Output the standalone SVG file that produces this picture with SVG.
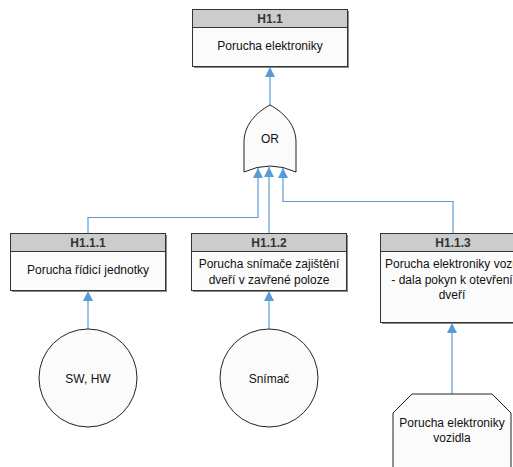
<svg xmlns="http://www.w3.org/2000/svg" width="513" height="467" viewBox="0 0 513 467">
  <style>
    .box { fill: #fbfbfb; stroke: #333333; stroke-width: 1; }
    .shadow { fill: #8a8a8a; }
    .hdr { fill: #cccccc; stroke: #333333; stroke-width: 1; }
    .htxt { font-family: "Liberation Sans", Arial, sans-serif; font-size: 12px; font-weight: bold; fill: #333333; text-anchor: middle; }
    .txt { font-family: "Liberation Sans", Arial, sans-serif; font-size: 12px; fill: #111111; text-anchor: middle; }
    .shape { fill: #fbfbfb; stroke: #222222; stroke-width: 1; }
    .wire { fill: none; stroke: #5b9bd5; stroke-width: 1.2; }
  </style>
  <defs>
    <marker id="arrow" markerUnits="userSpaceOnUse" markerWidth="10" markerHeight="12" refX="10" refY="5" orient="auto">
      <path d="M0,0 L10,5 L0,10 Z" fill="#5b9bd5"/>
    </marker>
  </defs>
  <rect width="513" height="467" fill="#ffffff"/>

  <!-- connectors -->
  <g id="connectors">
    <path class="wire" d="M270,105 L270,67" marker-end="url(#arrow)"/>
    <path class="wire" d="M88,233 L88,217.5 L258,217.5 L258,168" marker-end="url(#arrow)"/>
    <path class="wire" d="M269,233 L269,167" marker-end="url(#arrow)"/>
    <path class="wire" d="M453,233 L453,201.5 L283,201.5 L283,168" marker-end="url(#arrow)"/>
    <path class="wire" d="M88,329 L88,291" marker-end="url(#arrow)"/>
    <path class="wire" d="M269,329 L269,291" marker-end="url(#arrow)"/>
    <path class="wire" d="M452,394 L452,323" marker-end="url(#arrow)"/>
  </g>

  <!-- top event -->
  <g id="H1.1">
    <rect class="shadow" x="194" y="11" width="155" height="57"/>
    <rect class="box" x="192.5" y="9.5" width="155" height="57"/>
    <rect class="hdr" x="192.5" y="9.5" width="155" height="18"/>
    <text class="htxt" x="270" y="22.5">H1.1</text>
    <text class="txt" x="270" y="50">Porucha elektroniky</text>
  </g>

  <!-- OR gate -->
  <g id="gate-or">
    <path class="shape" d="M270,105 C255,113 244,126 244,142 L244,172 Q270,160 296,172 L296,142 C296,126 285,113 270,105 Z"/>
    <text class="txt" x="270" y="142.5">OR</text>
  </g>

  <g id="H1.1.1">
    <rect class="shadow" x="12" y="235" width="155" height="57"/>
    <rect class="box" x="10.5" y="233.5" width="155" height="57"/>
    <rect class="hdr" x="10.5" y="233.5" width="155" height="18"/>
    <text class="htxt" x="88" y="246.5">H1.1.1</text>
    <text class="txt" x="88" y="274">Porucha řídicí jednotky</text>
  </g>

  <g id="H1.1.2">
    <rect class="shadow" x="193" y="235" width="155" height="57"/>
    <rect class="box" x="191.5" y="233.5" width="155" height="57"/>
    <rect class="hdr" x="191.5" y="233.5" width="155" height="18"/>
    <text class="htxt" x="269" y="246.5">H1.1.2</text>
    <text class="txt" x="269" y="268">Porucha snímače zajištění</text>
    <text class="txt" x="269" y="284">dveří v zavřené poloze</text>
  </g>

  <g id="H1.1.3">
    <rect class="shadow" x="382" y="235" width="155" height="89"/>
    <rect class="box" x="380.5" y="233.5" width="155" height="89"/>
    <rect class="hdr" x="380.5" y="233.5" width="155" height="18"/>
    <text class="htxt" x="453" y="246.5">H1.1.3</text>
    <text class="txt" x="452" y="268">Porucha elektroniky vozu</text>
    <text class="txt" x="452" y="284">- dala pokyn k otevření</text>
    <text class="txt" x="452" y="299">dveří</text>
  </g>

  <!-- basic events -->
  <g id="sw-hw">
    <circle class="shape" cx="88" cy="378" r="49"/>
    <text class="txt" x="88" y="383">SW, HW</text>
  </g>

  <g id="snimac">
    <circle class="shape" cx="269" cy="378" r="49"/>
    <text class="txt" x="269" y="383">Snímač</text>
  </g>

  <!-- undeveloped event -->
  <g id="porucha-vozidla">
    <path class="shape" d="M393,470 L393,413 L412,394 L492,394 L511,413 L511,470"/>
    <text class="txt" x="452" y="427">Porucha elektroniky</text>
    <text class="txt" x="452" y="442">vozidla</text>
  </g>
</svg>
